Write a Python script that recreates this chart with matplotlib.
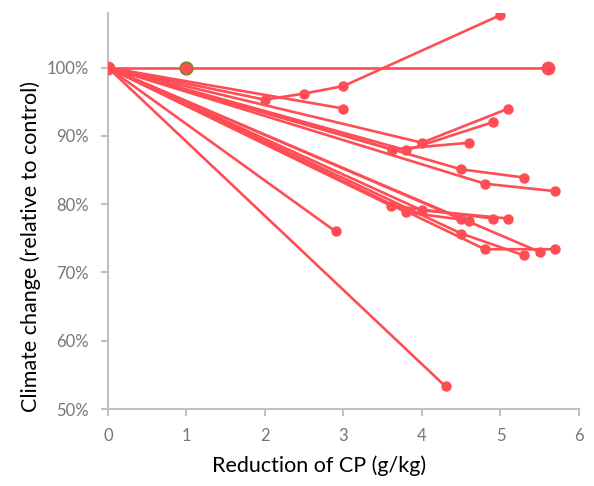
import matplotlib
matplotlib.use("Agg")
import matplotlib.pyplot as plt
from matplotlib.ticker import FuncFormatter

plt.rcParams['font.family'] = ['Lato', 'DejaVu Sans']

# Each series: reduction of CP (g/kg) and climate change (% of control)
series_x = [
    [0, 1.0, 5.6],
    [0, 2.0, 2.5, 3.0, 5.0],
    [0, 3.0],
    [0, 3.62, 4.6],
    [0, 3.8, 4.9],
    [0, 4.0, 5.1],
    [0, 4.5, 5.3],
    [0, 4.8, 5.7],
    [0, 3.6, 4.9],
    [0, 3.8, 4.6],
    [0, 4.0, 5.1],
    [0, 4.5],
    [0, 4.5, 5.3],
    [0, 4.8, 5.7],
    [0, 5.5],
    [0, 2.9],
    [0, 4.3],
]
series_y = [
    [100, 100, 100],
    [100, 95.3, 96.2, 97.3, 107.7],
    [100, 94.0],
    [100, 88.0, 89.0],
    [100, 87.9, 92.0],
    [100, 89.0, 94.0],
    [100, 85.1, 83.9],
    [100, 83.0, 81.9],
    [100, 79.8, 77.9],
    [100, 78.8, 77.6],
    [100, 79.1, 77.9],
    [100, 77.8],
    [100, 75.7, 72.5],
    [100, 73.4, 73.4],
    [100, 73.0],
    [100, 76.0],
    [100, 53.3],
]

x_ticks = [0, 1, 2, 3, 4, 5, 6]
y_ticks = [50, 60, 70, 80, 90, 100]

color = "#FF4D55"
axis_color = "#BFBFCC"
text_color = "#767676"

fig = plt.figure(figsize=(5.94, 4.86), dpi=100)
ax = fig.add_axes([0.1818, 0.1584, 0.7929, 0.8149])

for xs, ys in zip(series_x, series_y):
    ax.plot(xs, ys, color=color, lw=1.9, marker='o', ms=6.5,
            markeredgecolor=color, zorder=2)

# special markers
ax.plot([series_x[0][0]], [series_y[0][0]], 'o', ms=9, color=color, zorder=3)
ax.plot([series_x[0][-1]], [series_y[0][-1]], 'o', ms=9, color=color, zorder=3)
ax.plot([series_x[0][1]], [series_y[0][1]], 'o', ms=9, color=color,
        markeredgecolor="#8C7B2A", markeredgewidth=1.2, zorder=3)

ax.set_xlim(0, 6)
ax.set_ylim(50, 108)
ax.set_xticks(x_ticks)
ax.set_yticks(y_ticks)
ax.yaxis.set_major_formatter(FuncFormatter(lambda v, p: f"{int(v)}%"))

for s in ['top', 'right']:
    ax.spines[s].set_visible(False)
for s in ['left', 'bottom']:
    ax.spines[s].set_color(axis_color)
    ax.spines[s].set_linewidth(1.5)
    ax.spines[s].set_zorder(1)
ax.tick_params(axis='both', colors=axis_color, width=1.5, length=5,
               labelcolor=text_color, labelsize=12)
ax.tick_params(axis='x', pad=9)
ax.tick_params(axis='y', pad=9)

ax.set_xlabel("Reduction of CP (g/kg)", fontsize=15.5, color="#000000")
ax.set_ylabel("Climate change (relative to control)", fontsize=15.5, color="#000000")
ax.xaxis.set_label_coords(0.448, -0.118)
ax.yaxis.set_label_coords(-0.143, 0.41)

fig.savefig("out.png", dpi=100)
